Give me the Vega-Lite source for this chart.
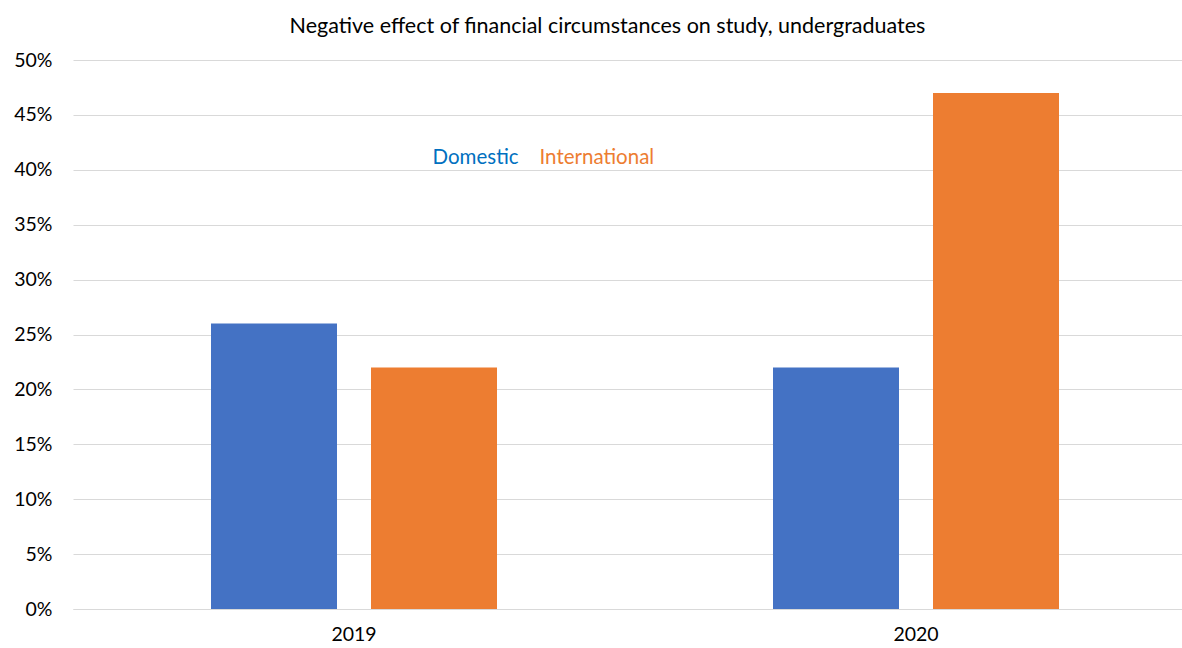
{
  "$schema": "https://vega.github.io/schema/vega-lite/v6.json",
  "autosize": {"type": "none"},
  "width": 1109,
  "height": 549,
  "padding": {"left": 73, "top": 60, "right": 0, "bottom": 39},
  "background": "white",
  "title": {
    "text": "Negative effect of financial circumstances on study, undergraduates",
    "anchor": "middle",
    "frame": "group",
    "dx": -20,
    "offset": 13,
    "font": "Lato",
    "fontSize": 21.5,
    "fontWeight": "normal",
    "color": "#000000"
  },
  "data": {
    "values": [
      {"year": "2019", "group": "Domestic", "value": 0.26},
      {"year": "2019", "group": "International", "value": 0.22},
      {"year": "2020", "group": "Domestic", "value": 0.22},
      {"year": "2020", "group": "International", "value": 0.47}
    ]
  },
  "mark": {"type": "bar"},
  "encoding": {
    "x": {
      "field": "year",
      "type": "nominal",
      "scale": {"range": [0, 1124], "paddingInner": 0, "paddingOuter": 0},
      "axis": {
        "title": null,
        "labelAngle": 0,
        "ticks": false,
        "domainColor": "#D9D9D9",
        "domainWidth": 1,
        "labelFont": "Lato",
        "labelFontSize": 19.5,
        "labelColor": "#000000",
        "labelPadding": 16
      }
    },
    "xOffset": {
      "field": "group",
      "type": "nominal",
      "scale": {"domain": ["Domestic", "International"], "paddingInner": 0.2125, "paddingOuter": 0.8625}
    },
    "y": {
      "field": "value",
      "type": "quantitative",
      "scale": {"domain": [0, 0.5], "nice": false},
      "axis": {
        "title": null,
        "format": ".0%",
        "values": [0, 0.05, 0.1, 0.15, 0.2, 0.25, 0.3, 0.35, 0.4, 0.45, 0.5],
        "domain": false,
        "ticks": false,
        "gridColor": "#D9D9D9",
        "gridWidth": 1,
        "labelFont": "Lato",
        "labelFontSize": 19.5,
        "labelColor": "#000000",
        "labelPadding": 21
      }
    },
    "color": {
      "field": "group",
      "type": "nominal",
      "scale": {"domain": ["Domestic", "International"], "range": ["#4472C4", "#ED7D31"]},
      "legend": {
        "title": null,
        "orient": "none",
        "legendX": 339,
        "legendY": 88,
        "direction": "horizontal",
        "symbolSize": 0,
        "symbolStrokeWidth": 0,
        "symbolOpacity": 0,
        "labelOffset": 0,
        "columnPadding": -5,
        "labelFont": "Lato",
        "labelFontSize": 20.5,
        "labelColor": {"expr": "datum.value === 'Domestic' ? '#0070C0' : '#ED7D31'"}
      }
    }
  },
  "config": {"view": {"stroke": null}}
}
